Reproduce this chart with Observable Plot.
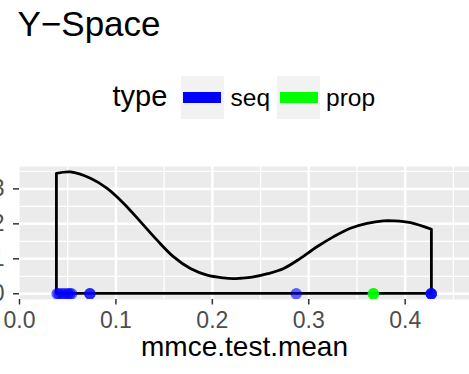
<!DOCTYPE html>
<html>
<head>
<meta charset="utf-8">
<script src="https://cdn.jsdelivr.net/npm/d3@7"></script>
<script src="https://cdn.jsdelivr.net/npm/@observablehq/plot@0.6"></script>
<style>
  html, body { margin: 0; padding: 0; background: #ffffff; }
  body { width: 469px; height: 374px; position: relative; overflow: hidden; font-family: "Liberation Sans", Arial, sans-serif; }
  .t { position: absolute; line-height: 1; white-space: nowrap; color: #000; }
  .key { position: absolute; background: #f2f2f2; }
  .bar { position: absolute; }
  #chart { position: absolute; left: 0; top: 130px; }
</style>
</head>
<body>
<div class="t" style="left:17.5px; top:5.5px; font-size:35px;">Y−Space</div>
<div id="legend"></div>
<div id="chart"></div>
<script>
// ---- data ----
const densX = [0.0388, 0.0533, 0.0741, 0.0914, 0.1086, 0.1259, 0.1432, 0.1601, 0.1778, 0.1951, 0.2120, 0.2220, 0.2296, 0.2418, 0.2580, 0.2745, 0.2918, 0.3090, 0.3264, 0.3437, 0.3610, 0.3780, 0.3886, 0.4060, 0.4277];
const densY = [3.43, 3.47, 3.29, 3.00, 2.57, 2.05, 1.52, 1.05, 0.71, 0.52, 0.44, 0.42, 0.43, 0.46, 0.56, 0.71, 1.00, 1.33, 1.62, 1.86, 2.00, 2.07, 2.07, 2.02, 1.83];
const seqX = [0.039, 0.041, 0.044, 0.047, 0.050, 0.052, 0.054, 0.073, 0.073, 0.287, 0.427, 0.427, 0.427];
const propX = [0.367, 0.367, 0.367];
const types = ["seq", "prop"];
const typeColors = ["#0000ff", "#00ff00"];
const xTicks = [0, 0.1, 0.2, 0.3, 0.4];
const xMinor = [0.05, 0.15, 0.25, 0.35, 0.45];
const yTicks = [0, 1, 2, 3];
const yMinor = [0.5, 1.5, 2.5, 3.5];
const xTitle = "mmce.test.mean";
const legendTitle = "type";

// ---- build tables ----
const dens = densX.map((x, i) => ({x, y: densY[i]}));
const pts = [
  ...seqX.map(x => ({x, type: "seq"})),
  ...propX.map(x => ({x, type: "prop"}))
];

// ---- legend (HTML above the svg) ----
const legend = document.getElementById("legend");
legend.innerHTML =
  `<div class="t" style="left:112.5px; top:82.2px; font-size:29px;">${legendTitle}</div>` +
  `<div class="key" style="left:181px; top:76px; width:43px; height:43px;"></div>` +
  `<div class="bar" style="left:183.3px; top:91.7px; width:37.7px; height:11.6px; background:${typeColors[0]};"></div>` +
  `<div class="t" style="left:230.5px; top:86px; font-size:24.5px;">${types[0]}</div>` +
  `<div class="key" style="left:276.7px; top:76px; width:43px; height:43px;"></div>` +
  `<div class="bar" style="left:280px; top:91.7px; width:37.7px; height:11.6px; background:${typeColors[1]};"></div>` +
  `<div class="t" style="left:326px; top:86px; font-size:24.5px;">${types[1]}</div>`;

// ---- plot ----
const W = 469, H = 244;
const chart = Plot.plot({
  width: W,
  height: H,
  marginLeft: 19,
  marginRight: 0,
  marginTop: 36,
  marginBottom: 75,
  style: {background: "transparent", fontFamily: "Liberation Sans, Arial, sans-serif", color: "#4d4d4d", overflow: "visible"},
  x: {domain: [0, 0.4667]},
  y: {domain: [-0.163, 3.64]},
  color: {domain: types, range: typeColors},
  marks: [
    Plot.frame({fill: "#ebebeb", stroke: null}),
    Plot.gridX(xMinor, {stroke: "#ffffff", strokeOpacity: 1, strokeWidth: 1.3}),
    Plot.gridY(yMinor, {stroke: "#ffffff", strokeOpacity: 1, strokeWidth: 1.3}),
    Plot.gridX(xTicks.filter(d => d > 0), {stroke: "#ffffff", strokeOpacity: 1, strokeWidth: 2.5}),
    Plot.gridY(yTicks, {stroke: "#ffffff", strokeOpacity: 1, strokeWidth: 2.5}),
    Plot.areaY(dens, {x: "x", y: "y", fill: "none", stroke: "#000000", strokeWidth: 2.8, curve: "catmull-rom"}),
    Plot.dot(pts, {x: "x", y: () => 0, r: 5.7, fill: "type", fillOpacity: 0.6, stroke: null, clip: true}),
    Plot.axisX(xTicks, {tickSize: 5.5, tickPadding: 6.2, fontSize: 23, stroke: "#333333", strokeWidth: 1.5, tickFormat: d3.format(".1f"), label: null}),
    Plot.axisY(yTicks, {tickSize: 6, tickPadding: 9, fontSize: 23, stroke: "#333333", strokeWidth: 1.5, tickFormat: d3.format("d"), label: null}),
    Plot.text([xTitle], {frameAnchor: "bottom", text: d => d, fontSize: 28, fill: "#000000", dy: 56})
  ]
});
document.getElementById("chart").appendChild(chart);
</script>
</body>
</html>
